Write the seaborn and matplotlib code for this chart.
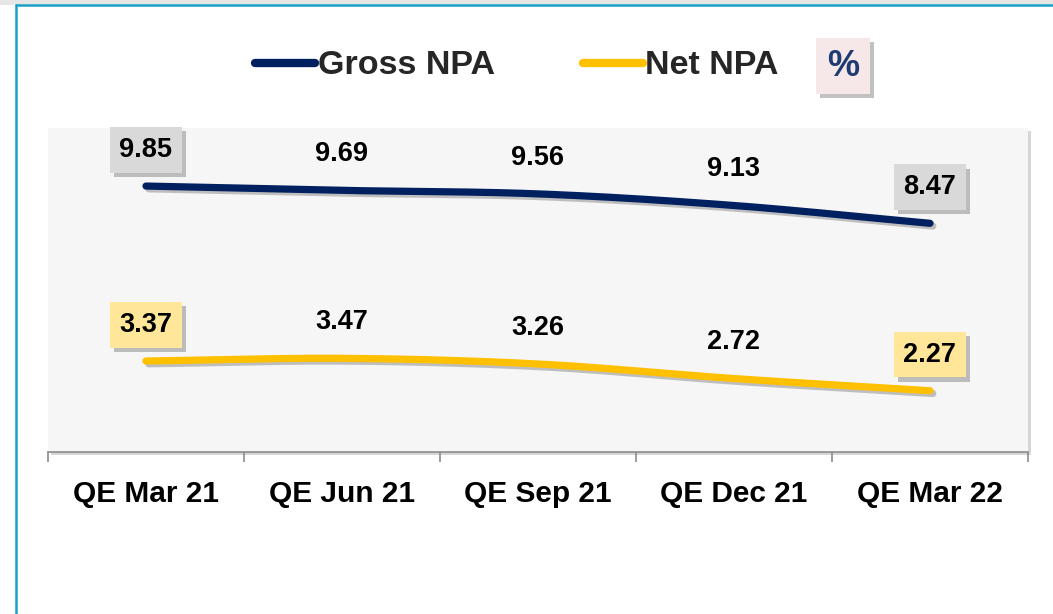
import numpy as np
import pandas as pd
import matplotlib
matplotlib.use("Agg")
import matplotlib.pyplot as plt
import matplotlib.patheffects as pe
from matplotlib.lines import Line2D
from matplotlib.patches import Rectangle
import seaborn as sns

categories = ["QE Mar 21", "QE Jun 21", "QE Sep 21", "QE Dec 21", "QE Mar 22"]
gross_npa = [9.85, 9.69, 9.56, 9.13, 8.47]
net_npa = [3.37, 3.47, 3.26, 2.72, 2.27]
series_names = ["Gross NPA", "Net NPA"]
colors = ["#002060", "#FFC000"]

sns.set_theme(style="white")
plt.rcParams["font.family"] = ["Liberation Sans", "DejaVu Sans"]
plt.rcParams["font.weight"] = "bold"

fig = plt.figure(figsize=(10.53, 6.14), dpi=100)
fig.patch.set_facecolor("white")

# screenshot frame
fig.add_artist(Rectangle((0, 1 - 5 / 614), 1, 5 / 614, transform=fig.transFigure,
                         facecolor="#e6e6e6", edgecolor="none", zorder=0))
fig.add_artist(Line2D([16 / 1053, 16 / 1053], [0, 1 - 5 / 614], transform=fig.transFigure,
                      color="#1BA1C5", lw=1.8))
fig.add_artist(Line2D([16 / 1053, 1], [1 - 5 / 614, 1 - 5 / 614], transform=fig.transFigure,
                      color="#1BA1C5", lw=1.8))

ax = fig.add_axes([48 / 1053, 1 - 452 / 614, (1028 - 48) / 1053, (452 - 128) / 614])
ax.set_facecolor("#F6F6F6")
ax.patch.set_path_effects([pe.withSimplePatchShadow(offset=(2, -2), shadow_rgbFace="#bbbbbb", alpha=0.6)])


def smooth(xs, ys, n=40):
    xs = np.asarray(xs, float)
    ys = np.asarray(ys, float)
    px, py = [], []
    m = np.gradient(ys, xs)
    for i in range(len(xs) - 1):
        t = np.linspace(0, 1, n)
        h00 = 2 * t**3 - 3 * t**2 + 1
        h10 = t**3 - 2 * t**2 + t
        h01 = -2 * t**3 + 3 * t**2
        h11 = t**3 - t**2
        dx = xs[i + 1] - xs[i]
        px.append(xs[i] + t * dx)
        py.append(h00 * ys[i] + h10 * dx * m[i] + h01 * ys[i + 1] + h11 * dx * m[i + 1])
    return np.concatenate(px), np.concatenate(py)


xpos = np.arange(len(categories))
frames = []
for name, vals in zip(series_names, [gross_npa, net_npa]):
    sx, sy = smooth(xpos, vals)
    frames.append(pd.DataFrame({"x": sx, "y": sy, "series": name}))
df = pd.concat(frames, ignore_index=True)

sns.lineplot(data=df, x="x", y="y", hue="series", palette=colors, sort=False,
             estimator=None, lw=5.2, ax=ax, legend=False,
             path_effects=[pe.SimpleLineShadow(offset=(2, -2), shadow_color="#888888", alpha=0.5), pe.Normal()],
             solid_capstyle="round")

ax.set_xlim(-0.5, len(categories) - 0.5)
ax.set_ylim(0, 12)
ax.set_yticks([])
ax.set_xticks(xpos)
ax.set_xticklabels(categories, fontsize=21.5, fontweight="bold", color="black")
ax.set_xticks(np.arange(len(categories) + 1) - 0.5, minor=True)
ax.tick_params(axis="x", which="major", length=0, pad=20)
ax.tick_params(axis="x", which="minor", length=7, width=1.2, color="#8c8c8c", direction="out", bottom=True)
ax.set_xlabel("")
ax.set_ylabel("")
for s in ["top", "left", "right"]:
    ax.spines[s].set_visible(False)
ax.spines["bottom"].set_color("#8c8c8c")
ax.spines["bottom"].set_linewidth(1.2)

box_styles = ["#D9D9D9", "#FFE699"]
for vals, fc in zip([gross_npa, net_npa], box_styles):
    for i, v in enumerate(vals):
        boxed = i in (0, len(vals) - 1)
        t = ax.annotate(f"{v:.2f}", (i, v), xytext=(0, 26), textcoords="offset points",
                        ha="center", va="center", fontsize=19.5, fontweight="bold", color="black",
                        bbox=dict(boxstyle="square,pad=0.36", fc=fc, ec="none") if boxed else None,
                        zorder=5)
        if boxed:
            t.get_bbox_patch().set_path_effects(
                [pe.withSimplePatchShadow(offset=(3, -3), shadow_rgbFace="#666666", alpha=0.4)])

handles = [Line2D([0], [0], color=c, lw=6, solid_capstyle="round") for c in colors]
fig.legend(handles, series_names, loc="center", bbox_to_anchor=(517 / 1053, 1 - 66 / 614),
           ncol=2, frameon=False, prop={"size": 24.5, "weight": "bold"},
           handlelength=1.75, handletextpad=0.08, columnspacing=2.6)

pct = fig.text(843 / 1053, 1 - 66 / 614, "%", ha="center", va="center", fontsize=26,
               fontweight="bold", color="#1F3B73",
               bbox=dict(boxstyle="square,pad=0.3", fc="#F6E8E8", ec="none"))
pct.get_bbox_patch().set_path_effects(
    [pe.withSimplePatchShadow(offset=(3, -3), shadow_rgbFace="#666666", alpha=0.4)])

fig.savefig("out.png", dpi=100)
